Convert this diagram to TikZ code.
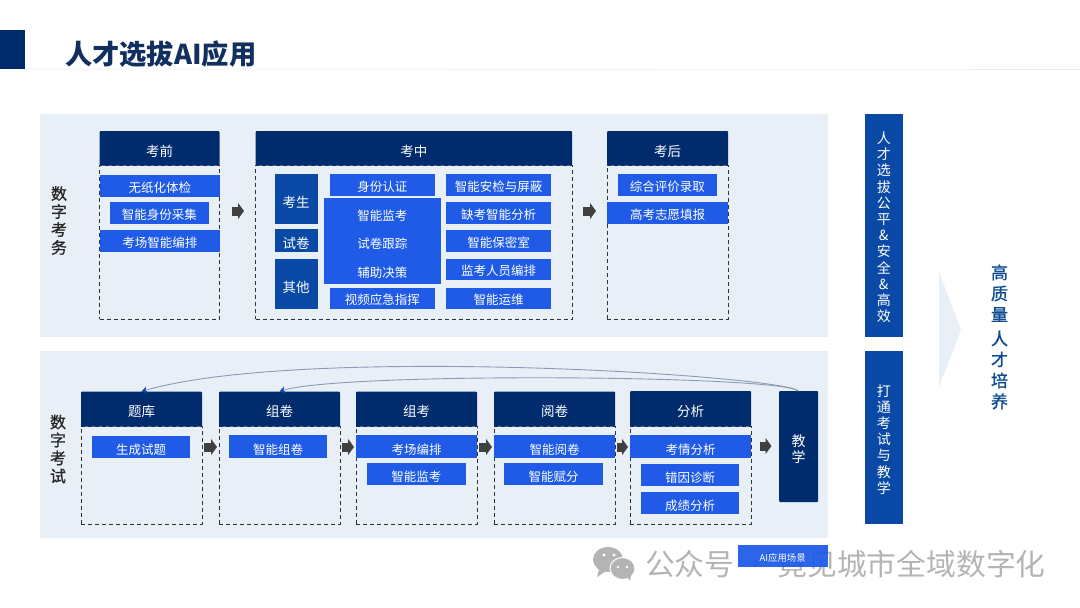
\documentclass[tikz,border=0pt]{standalone}
\usepackage{fontspec}
\setmainfont{Noto Sans CJK SC}
\usetikzlibrary{arrows.meta}
\definecolor{navy}{HTML}{002C6E}
\definecolor{midblue}{HTML}{0A4AA6}
\definecolor{bright}{HTML}{1F5BE6}
\definecolor{panel}{HTML}{E9EFF7}
\definecolor{titlec}{HTML}{12305F}
\definecolor{darka}{HTML}{404040}
\definecolor{curvec}{HTML}{8D9AB3}
\definecolor{wm}{HTML}{B4B4B4}
\definecolor{side}{HTML}{0E4C92}
\tikzset{
  base/.style={inner sep=0pt,outer sep=0pt,align=center},
  drop/.style={execute at begin node={\rule{0pt}{\dimexpr.88em+2\dimexpr#1\relax\relax}}},
  panelbox/.style={base,fill=panel},
  header/.style={base,fill=navy,text=white,font=\fontsize{13.5}{13.5}\selectfont,rounded corners=1pt,drop=2.5pt},
  body/.style={base,draw=black!80,dashed,dash pattern=on 4pt off 3pt,line width=0.9pt},
  item/.style={base,fill=bright,text=white,font=\fontsize{12.5}{28.5}\selectfont,drop=1.5pt},
  itemlow/.style={base,fill=bright,text=white,font=\fontsize{12.5}{21}\selectfont,drop=2.8pt},
  group/.style={base,fill=midblue,text=white,font=\fontsize{13.5}{13.5}\selectfont,drop=2.8pt},
  teach/.style={base,fill=navy,text=white,font=\fontsize{14}{16}\selectfont,rounded corners=1pt},
  sidebar/.style={base,fill=midblue,text=white,font=\fontsize{14}{16.2}\selectfont},
  blockarrow/.style={draw=darka,line width=9pt,-{Triangle[length=6pt,width=16pt]}},
  backarrow/.style={draw=curvec,line width=.9pt,-{Stealth[length=6pt,width=7pt,color=midblue]}},
  rowlabel/.style={base,text=black!85,font=\fontsize{16}{18}\selectfont\addfontfeature{FakeBold=0.9}},
}
\newcommand{\ibox}[7][item]{%
  \node[#1,minimum width={(#5-#3)*1pt},minimum height={(#6-#4)*1pt}] (#2) at ({(#3+#5)/2},{(#4+#6)/2}) {#7};}
\begin{document}
\begin{tikzpicture}[x=1pt,y=-1pt]
\useasboundingbox (0,0) rectangle (1080,608);
% title
\ibox[base,fill=navy]{tbar}{0}{30}{25}{69}{}
\coordinate (lineend) at (1080,69.5);
\draw[black!8,line width=0.6pt] (tbar.east) ++(0,19.5) -- (lineend);
\node[base,anchor=west,text=titlec,font=\fontsize{27.3}{27.3}\selectfont\bfseries] (title) at (65,54) {人才选拔AI应用};
% panels
\ibox[panelbox]{p1}{40}{114}{828}{337}{}
\ibox[panelbox]{p2}{40}{351}{828}{538}{}
\node[rowlabel] (l1) at (59,220.5) {数\\字\\考\\务};
\node[rowlabel] (l2) at (58,449) {数\\字\\考\\试};
% upper bodies
\ibox[body]{b1}{99.5}{165}{219.5}{319}{}
\ibox[body]{b2}{255.5}{165}{572}{319}{}
\ibox[body]{b3}{607}{165}{728}{319}{}
\ibox[header]{h1}{99.5}{131}{219.5}{165.5}{考前}
\ibox[header]{h2}{255.5}{131}{572}{165.5}{考中}
\ibox[header]{h3}{607}{131}{728}{165.5}{考后}
\ibox{a1}{100}{175}{219.5}{197}{无纸化体检}
\ibox{a2}{110}{202}{208.5}{224}{智能身份采集}
\ibox{a3}{100}{230}{219.5}{252}{考场智能编排}
\ibox[group]{g1}{274.5}{174}{317.5}{223.5}{考生}
\ibox[group,drop=1.5pt]{g2}{274.5}{229}{317.5}{251.5}{试卷}
\ibox[group]{g3}{274.5}{259}{317.5}{309}{其他}
\ibox{m1}{330}{174}{434.5}{196}{身份认证}
\ibox{m2}{324}{198}{440.5}{284}{\rule{0pt}{17pt}智能监考\\试卷跟踪\\辅助决策}
\ibox{m3}{330}{287.5}{434.5}{309}{视频应急指挥}
\ibox{r1}{446}{174}{551}{196}{智能安检与屏蔽}
\ibox{r2}{446}{202}{551}{224}{缺考智能分析}
\ibox{r3}{446}{230}{551}{252}{智能保密室}
\ibox{r4}{446}{259}{551}{280}{监考人员编排}
\ibox{r5}{446}{287.5}{551}{309}{智能运维}
\ibox{c1}{618}{174}{716.5}{196}{综合评价录取}
\ibox{c2}{607}{202}{728}{223.5}{高考志愿填报}
\draw[blockarrow,shorten <=12pt,shorten >=11.5pt] ([yshift=31pt]b1.east) -- ([yshift=31pt]b2.west);
\draw[blockarrow,shorten <=11pt,shorten >=11pt] ([yshift=31pt]b2.east) -- ([yshift=31pt]b3.west);
% lower bodies
\ibox[body]{d1}{81}{426}{202}{524}{}
\ibox[body]{d2}{219}{426}{340}{524}{}
\ibox[body]{d3}{356}{426}{477}{524}{}
\ibox[body]{d4}{494}{426}{615}{524}{}
\ibox[body]{d5}{630}{426}{751}{524}{}
\ibox[header]{k1}{81}{391.5}{202}{426.5}{题库}
\ibox[header]{k2}{219}{391.5}{340}{426.5}{组卷}
\ibox[header]{k3}{356}{391.5}{477}{426.5}{组考}
\ibox[header]{k4}{494}{391.5}{615}{426.5}{阅卷}
\ibox[header]{k5}{630}{391}{751}{426.5}{分析}
\ibox[teach]{jx}{779}{391}{818}{502}{\rule{0pt}{18pt}教\\学}
\ibox[itemlow]{e1}{92}{436}{190}{457.5}{生成试题}
\ibox[itemlow]{e2}{229}{435}{327}{457.5}{智能组卷}
\ibox[itemlow]{e3}{356}{435}{477}{457.5}{考场编排}
\ibox[itemlow]{e4}{367}{463}{465.5}{484.5}{智能监考}
\ibox[itemlow]{e5}{494}{435}{615}{457.5}{智能阅卷}
\ibox[itemlow]{e6}{504}{463}{603}{484.5}{智能赋分}
\ibox[itemlow]{e7}{630}{435}{751}{457.5}{考情分析}
\ibox[itemlow]{e8}{641}{463.5}{739}{485.5}{错因诊断}
\ibox[itemlow]{e9}{641}{492}{739}{514}{成绩分析}
\foreach \u/\v in {d1/d2,d2/d3,d3/d4,d4/d5}
  \draw[blockarrow,shorten <=2pt,shorten >=2pt] ([yshift=28pt]\u.east) -- ([yshift=28pt]\v.west);
\draw[blockarrow,shorten <=9pt,shorten >=7.5pt] ([yshift=29pt]d5.east) -- (jx.west |- {0,446});
\draw[backarrow] (jx.north) .. controls (780,375) and (300,345) .. (k1.north);
\draw[backarrow] (jx.north) .. controls (780,375) and (340,372) .. (k2.north);
% side
\ibox[sidebar]{s1}{864.5}{114}{903}{337}{\rule{0pt}{15.5pt}人\\才\\选\\拔\\公\\平\\\&\\安\\全\\\&\\高\\效}
\ibox[sidebar]{s2}{864.5}{351}{903}{524}{\rule{0pt}{15.5pt}打\\通\\考\\试\\与\\教\\学}
\coordinate (cha) at (939,272);
\coordinate (chb) at (961,330);
\coordinate (chc) at (939,387);
\fill[panel] (cha) -- (chb) -- (chc) -- cycle;
\node[base,text=side,font=\fontsize{17}{21}\selectfont\addfontfeature{FakeBold=1.2}] (goal) at (999.5,337) {高\\质\\量\\[3pt]人\\才\\培\\养};
% footer
\node[base,anchor=west,text=wm,font=\fontsize{29.8}{30}\selectfont] (wmt) at (645,564) {公众号 · 竟见城市全域数字化};
\fill[wm] (608,559.5) ellipse (15pt and 12.5pt);
\fill[wm] (599,569) -- (597,577) -- (606,571) -- cycle;
\fill[wm,draw=white,line width=1pt] (622.5,568.5) ellipse (12.5pt and 11pt);
\fill[wm] (627,577) -- (630,581) -- (631,575) -- cycle;
\fill[white] (604,555) circle (1.7pt) (614,555) circle (1.7pt);
\fill[white] (618,567) circle (1.4pt) (627,567) circle (1.4pt);
\ibox[item,fill opacity=.94,text opacity=1,font=\fontsize{9.4}{9.4}\selectfont,drop=0pt]{ai}{738}{545}{827.5}{567}{AI应用场景}
\end{tikzpicture}
\end{document}
